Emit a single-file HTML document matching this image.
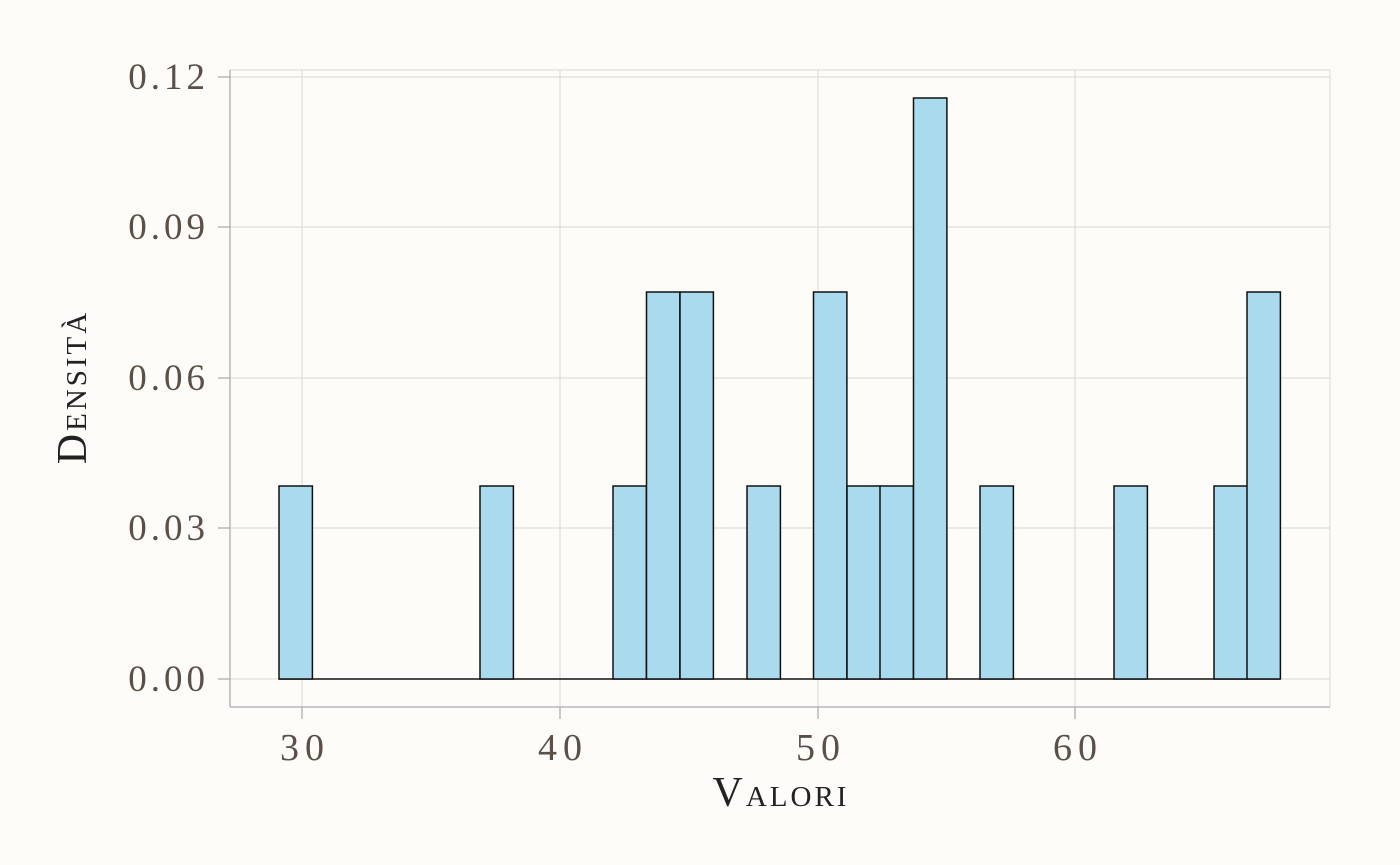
<!DOCTYPE html>
<html><head><meta charset="utf-8"><style>
body{margin:0;background:#fdfcf9;}
svg{display:block}
text{font-family:"Liberation Serif",serif;}
</style></head><body>
<svg width="1400" height="865" viewBox="0 0 1400 865">
<rect width="1400" height="865" fill="#fdfcf9"/>
<g stroke="#d9d9d5" stroke-width="1">
<line x1="302" y1="70" x2="302" y2="707"/><line x1="560" y1="70" x2="560" y2="707"/>
<line x1="818" y1="70" x2="818" y2="707"/><line x1="1075" y1="70" x2="1075" y2="707"/>
<line x1="230" y1="679" x2="1330" y2="679"/><line x1="230" y1="528" x2="1330" y2="528"/>
<line x1="230" y1="378" x2="1330" y2="378"/><line x1="230" y1="227" x2="1330" y2="227"/>
<line x1="230" y1="77" x2="1330" y2="77"/>
<line x1="230" y1="70" x2="1330" y2="70"/><line x1="1330" y1="70" x2="1330" y2="707"/>
</g>
<g stroke="#adadaa" stroke-width="1.3">
<line x1="230" y1="70" x2="230" y2="707"/><line x1="230" y1="707" x2="1330" y2="707"/>
<line x1="218" y1="679" x2="230" y2="679"/><line x1="218" y1="528" x2="230" y2="528"/><line x1="218" y1="378" x2="230" y2="378"/><line x1="218" y1="227" x2="230" y2="227"/><line x1="218" y1="77" x2="230" y2="77"/>
<line x1="302" y1="707" x2="302" y2="719"/><line x1="560" y1="707" x2="560" y2="719"/><line x1="818" y1="707" x2="818" y2="719"/><line x1="1075" y1="707" x2="1075" y2="719"/>
</g>
<line x1="279" y1="679" x2="1280" y2="679" stroke="#111" stroke-width="1.5"/>
<g fill="#a9daee" stroke="#111" stroke-width="1.5">
<rect x="279" y="486" width="33.4" height="193"/>
<rect x="480" y="486" width="33.4" height="193"/>
<rect x="613" y="486" width="33.4" height="193"/>
<rect x="646.5" y="292" width="33.4" height="387"/>
<rect x="680" y="292" width="33.4" height="387"/>
<rect x="747" y="486" width="33.4" height="193"/>
<rect x="813.5" y="292" width="33.4" height="387"/>
<rect x="847" y="486" width="33.4" height="193"/>
<rect x="880" y="486" width="33.4" height="193"/>
<rect x="913.5" y="98" width="33.4" height="581"/>
<rect x="980" y="486" width="33.4" height="193"/>
<rect x="1114" y="486" width="33.4" height="193"/>
<rect x="1214" y="486" width="33.4" height="193"/>
<rect x="1247" y="292" width="33.4" height="387"/>
</g>
<g fill="#5a5047" font-size="37" text-anchor="end" letter-spacing="4">
<text x="209" y="691">0.00</text><text x="209" y="540">0.03</text><text x="209" y="390">0.06</text><text x="209" y="239">0.09</text><text x="209" y="89">0.12</text>
</g>
<g fill="#5a5047" font-size="38" text-anchor="middle" letter-spacing="6">
<text x="305" y="760">30</text><text x="563" y="760">40</text><text x="821" y="760">50</text><text x="1078" y="760">60</text>
</g>
<text x="781" y="806" text-anchor="middle" font-size="42" fill="#222" letter-spacing="3" style="font-variant:small-caps">Valori</text>
<text transform="translate(86,387) rotate(-90)" text-anchor="middle" font-size="42" fill="#222" letter-spacing="3" style="font-variant:small-caps">Densità</text>
</svg>
</body></html>
